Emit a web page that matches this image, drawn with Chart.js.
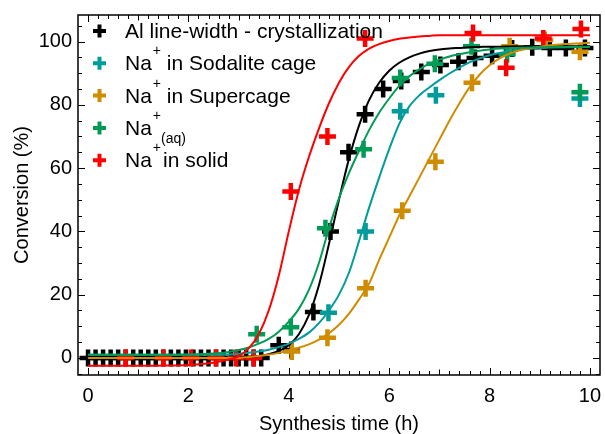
<!DOCTYPE html>
<html>
<head>
<meta charset="utf-8">
<script src="https://cdn.jsdelivr.net/npm/chart.js@4/dist/chart.umd.min.js"></script>
<style>
  html, body { margin: 0; padding: 0; background: #fff; }
  #wrap { width: 605px; height: 434px; }
</style>
</head>
<body>
<div id="wrap"><canvas id="c" width="605" height="434"></canvas></div>
<script>
// Axis ticks
const xTickValues = [0, 2, 4, 6, 8, 10];
const yTickValues = [0, 20, 40, 60, 80, 100];

// Measured points (synthesis time in h, conversion in %)
const alTime = [0, 0.15, 0.3, 0.45, 0.6, 0.75, 0.9, 1.05, 1.2, 1.35, 1.5, 1.65, 1.8, 1.95, 2.1, 2.25, 2.4, 2.55, 2.7, 2.85, 3.0, 3.15, 3.3, 3.45,
                3.8, 4.05, 4.49, 4.83, 5.19, 5.52, 5.88, 6.24, 6.64, 7.02, 7.38, 7.71, 8.05, 8.45, 8.85, 9.2, 9.52, 9.9];
const alConv = [0, 0, 0, 0, 0, 0, 0, 0, 0, 0, 0, 0, 0, 0, 0, 0, 0, 0, 0, 0, 0, 0, 0, 0,
                4, 2.5, 14.5, 40, 65, 77, 85, 87.5, 90.4, 92.6, 93.6, 94.8, 95.5, 97.8, 98.2, 98, 98, 98];

const sodaliteTime = [4.79, 5.53, 6.22, 6.93, 9.8];
const sodaliteConv = [14.3, 40, 78, 83, 82];

const supercageTime = [4.06, 4.77, 5.53, 6.26, 6.92, 7.65, 8.4, 9.1, 9.8];
const supercageConv = [2, 6.4, 22, 46.5, 62, 87, 98.5, 100.5, 96.8];

const aqTime = [3.36, 4.04, 4.73, 5.49, 6.22, 6.91, 7.64, 8.35, 9.8];
const aqConv = [7.5, 9.7, 41, 66, 88.5, 93, 98.5, 96, 84];

const solidTime = [0.75, 1.5, 2.05, 2.55, 2.95, 3.3, 4.04, 4.77, 5.52, 7.67, 8.33, 9.07, 9.82];
const solidConv = [0, 0, 0, 0, 0, 0, 52.6, 70, 101, 102.7, 91.7, 101, 104];

// Fitted kinetic curves, sampled along a common time axis
const curveTime = [0, 0.5, 1, 1.5, 2, 2.5, 2.8, 3.0, 3.2, 3.4, 3.6, 3.8, 4.0, 4.2, 4.4, 4.6, 4.8, 5.0, 5.2, 5.4, 5.6, 5.8,
                   6.0, 6.2, 6.4, 6.6, 6.8, 7.0, 7.2, 7.4, 7.6, 7.8, 8.0, 8.2, 8.5, 9.0, 9.5, 10.0];
const alFit = [0, 0, 0, 0, 0, 0, 0, 0.1, 0.3, 0.6, 1.2, 2.2, 4, 7.5, 13.5, 23, 36, 50, 63, 73.5, 81.5, 87,
               90.8, 93.3, 95, 96.2, 97, 97.5, 97.8, 98, 98.2, 98.3, 98.4, 98.4, 98.5, 98.5, 98.5, 98.5];
const sodaliteFit = [1, 1, 1, 1, 1, 1, 1.1, 1.3, 1.6, 2, 2.6, 3.4, 4.5, 6, 8, 11, 15, 20, 27, 37, 47.5, 57,
                     66, 74, 79.5, 83, 85.5, 87.8, 89.9, 91.8, 93.4, 94.7, 95.7, 96.4, 97.3, 98, 98.2, 98.3];
const supercageFit = [0, 0, 0, 0, 0, 0, 0, 0, 0.3, 0.6, 1, 1.6, 2.3, 3.2, 4.3, 5.8, 7.8, 10.5, 14, 18.5, 23.5, 31,
                      38, 45, 51, 57, 63, 69, 75, 80.5, 85.5, 89.5, 92.5, 94.7, 96.8, 98.4, 99.2, 99.6];
const aqFit = [1, 1, 1, 1, 1.1, 1.4, 1.9, 2.5, 3.3, 4.5, 6, 8.3, 11.5, 15.5, 21.5, 30, 41, 50.5, 58.5, 65.5, 72, 77.5,
               82, 86, 89, 91.2, 93, 94.3, 95.3, 96, 96.6, 97.1, 97.5, 97.8, 98, 98.2, 98.3, 98.3];
const solidFit = [-2.5, -2.5, -2.5, -2.4, -2.2, -1.5, -0.5, 0.5, 3, 7.5, 15, 26, 40, 53, 63.5, 72.5, 80.5, 87, 92, 95.5, 97.8, 99.2,
                  100.2, 100.9, 101.3, 101.6, 101.8, 102, 102, 102, 102, 102, 102, 102, 102, 102, 102, 102];

const COLORS = {
  al: '#000000',
  sodalite: '#009b9b',
  supercage: '#d08c00',
  aq: '#009b55',
  solid: '#ff0000'
};

// Legend rows: plain text runs, superscripts and subscripts
const legendRows = [
  { color: COLORS.al, runs: [{ t: 'Al line-width - crystallization' }] },
  { color: COLORS.sodalite, runs: [{ t: 'Na' }, { t: '+', sup: true }, { t: ' in Sodalite cage' }] },
  { color: COLORS.supercage, runs: [{ t: 'Na' }, { t: '+', sup: true }, { t: ' in Supercage' }] },
  { color: COLORS.aq, runs: [{ t: 'Na' }, { t: '+', sup: true }, { t: '(aq)', sub: true }] },
  { color: COLORS.solid, runs: [{ t: 'Na' }, { t: '+', sup: true }, { t: 'in solid', gap: 2 }] }
];

const FAMILY = '"Liberation Sans", Arial, Helvetica, sans-serif';
const font = { family: FAMILY, size: 20 };

function pts(xs, ys) { return xs.map((x, i) => ({ x: x, y: ys[i] })); }

function curve(label, color, ys) {
  return {
    label: label, data: pts(curveTime, ys), showLine: true, borderColor: color, borderWidth: 2,
    pointRadius: 0, pointHoverRadius: 0, cubicInterpolationMode: 'monotone', fill: false
  };
}
function marks(label, color, xs, ys) {
  return {
    label: label, data: pts(xs, ys), showLine: false, pointStyle: 'cross',
    pointRadius: 8.5, pointHoverRadius: 8.5, pointBorderWidth: 4.5, pointHoverBorderWidth: 4.5,
    pointBorderColor: color, pointBackgroundColor: color, borderColor: color, backgroundColor: color
  };
}

// Inward tick marks on all four sides plus the plot frame
const frameTicks = {
  id: 'frameTicks',
  afterDatasetsDraw(chart) {
    const { ctx, chartArea: a, scales: { x, y } } = chart;
    ctx.save();
    ctx.strokeStyle = '#000';
    ctx.lineWidth = 1;
    ctx.beginPath();
    for (let i = 0; i <= 50; i++) {
      const v = i * 0.2;
      const px = Math.round(x.getPixelForValue(v)) + 0.5;
      const len = (i % 10 === 0) ? 7 : (i % 5 === 0 ? 5.5 : 4);
      ctx.moveTo(px, a.bottom); ctx.lineTo(px, a.bottom - len);
      ctx.moveTo(px, a.top); ctx.lineTo(px, a.top + len);
    }
    for (let i = -1; i <= 21; i++) {
      const v = i * 5;
      const py = Math.round(y.getPixelForValue(v)) + 0.5;
      if (py < a.top || py > a.bottom) continue;
      const len = (i % 4 === 0) ? 7 : 4;
      ctx.moveTo(a.left, py); ctx.lineTo(a.left + len, py);
      ctx.moveTo(a.right, py); ctx.lineTo(a.right - len, py);
    }
    ctx.stroke();
    ctx.lineWidth = 1.5;
    ctx.strokeRect(a.left, a.top, a.right - a.left, a.bottom - a.top);
    ctx.restore();
  }
};

// Legend with chemical notation (Na+ superscript, (aq) subscript)
const richLegend = {
  id: 'richLegend',
  afterDraw(chart) {
    const ctx = chart.ctx;
    ctx.save();
    const markX = 99.5, textX = 125, base0 = 38, step = 32.3;
    legendRows.forEach((row, i) => {
      const baseY = base0 + i * step;
      const my = baseY - 7;
      ctx.strokeStyle = row.color;
      ctx.lineWidth = 4;
      ctx.beginPath();
      ctx.moveTo(markX - 6.5, my); ctx.lineTo(markX + 6.5, my);
      ctx.moveTo(markX, my - 6.5); ctx.lineTo(markX, my + 6.5);
      ctx.stroke();
      ctx.fillStyle = '#000';
      ctx.textBaseline = 'alphabetic';
      ctx.textAlign = 'left';
      let cx = textX;
      row.runs.forEach(r => {
        cx += r.gap || 0;
        if (r.sup) {
          ctx.font = '14px ' + FAMILY;
          ctx.fillText(r.t, cx + 1, baseY - 15);
          cx += ctx.measureText(r.t).width + 1;
        } else if (r.sub) {
          ctx.font = '14px ' + FAMILY;
          ctx.fillText(r.t, cx, baseY + 8);
          cx += ctx.measureText(r.t).width;
        } else {
          ctx.font = '21px ' + FAMILY;
          ctx.fillText(r.t, cx, baseY);
          cx += ctx.measureText(r.t).width;
        }
      });
    });
    ctx.restore();
  }
};

const datasets = [
  curve('Na+ in solid fit', COLORS.solid, solidFit),
  curve('Na+(aq) fit', COLORS.aq, aqFit),
  curve('Na+ in Supercage fit', COLORS.supercage, supercageFit),
  curve('Na+ in Sodalite cage fit', COLORS.sodalite, sodaliteFit),
  curve('Al line-width fit', COLORS.al, alFit),
  marks('Na+ in solid', COLORS.solid, solidTime, solidConv),
  marks('Na+(aq)', COLORS.aq, aqTime, aqConv),
  marks('Na+ in Supercage', COLORS.supercage, supercageTime, supercageConv),
  marks('Na+ in Sodalite cage', COLORS.sodalite, sodaliteTime, sodaliteConv),
  marks('Al line-width - crystallization', COLORS.al, alTime, alConv)
];

new Chart(document.getElementById('c'), {
  type: 'scatter',
  data: { datasets: datasets },
  plugins: [frameTicks, richLegend],
  options: {
    responsive: false,
    animation: false,
    devicePixelRatio: 1,
    layout: { autoPadding: false, padding: { left: 0, right: 5, top: 15, bottom: 0 } },
    plugins: { legend: { display: false }, tooltip: { enabled: false } },
    scales: {
      x: {
        type: 'linear', min: -0.2, max: 10.2,
        grid: { display: false, drawTicks: false },
        border: { display: false },
        afterBuildTicks: s => { s.ticks = xTickValues.map(v => ({ value: v })); },
        afterFit: s => { s.height = 59; s.paddingLeft = 0; s.paddingRight = 0; },
        ticks: { font: font, color: '#000', padding: 9, autoSkip: false, maxRotation: 0, callback: v => String(v) },
        title: { display: true, text: 'Synthesis time (h)', font: font, color: '#000', padding: { top: 0, bottom: -2 } }
      },
      y: {
        type: 'linear', min: -5.4, max: 108.4,
        grid: { display: false, drawTicks: false },
        border: { display: false },
        afterBuildTicks: s => { s.ticks = yTickValues.map(v => ({ value: v })); },
        afterFit: s => { s.width = 78; s.paddingTop = 0; s.paddingBottom = 0; },
        ticks: { font: font, color: '#000', padding: 6, autoSkip: false, callback: v => String(v) },
        title: { display: true, text: 'Conversion (%)', font: font, color: '#000', padding: { top: 10, bottom: 0 } }
      }
    }
  }
});
</script>
</body>
</html>
